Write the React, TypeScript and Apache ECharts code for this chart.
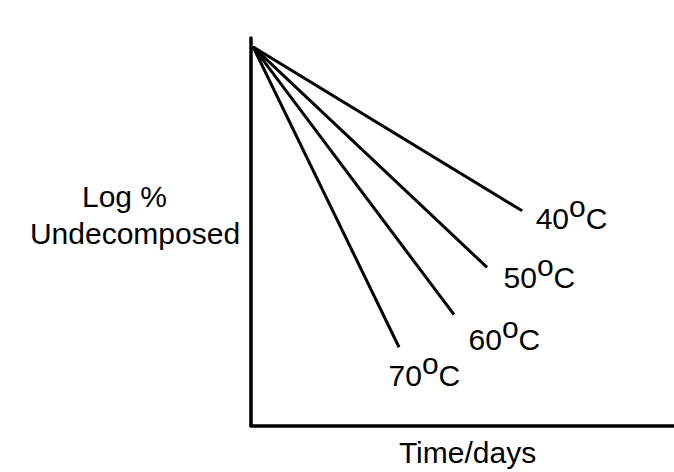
import React, { useEffect, useRef } from "react";
import * as echarts from "echarts";

// Data (arbitrary units: time 0-100, log % 0-100)
const temperatures = ["40", "50", "60", "70"];
const startTime = 0.5;
const startLog = 97.7;
const endTimes = [64.1, 55.8, 48.0, 35.0];
const endLogs = [55.4, 40.8, 28.6, 20.2];

const labelOffsets: [number, number][] = [
  [13, 8],
  [16, 10],
  [14, 25],
  [-11, 28],
];

const FONT = '"Liberation Sans", Arial, Helvetica, sans-serif';

export default function App() {
  const ref = useRef<HTMLDivElement>(null);

  useEffect(() => {
    if (!ref.current) return;
    const chart = echarts.init(ref.current, null, { renderer: "svg" });

    const series = temperatures.map((t, i) => ({
      type: "line",
      silent: true,
      symbol: "circle",
      symbolSize: 1,
      showSymbol: true,
      itemStyle: { color: "rgba(0,0,0,0)" },
      lineStyle: { color: "#000", width: 3 },
      data: [
        { value: [startTime, startLog], label: { show: false } },
        {
          value: [endTimes[i], endLogs[i]],
          label: {
            show: true,
            position: "right",
            distance: 0,
            offset: labelOffsets[i],
            color: "#000",
            formatter: `{n|${t}}{s|o}{n|C}`,
            rich: {
              n: { fontSize: 30, lineHeight: 34, fontFamily: FONT, color: "#000" },
              s: {
                fontSize: 30,
                lineHeight: 34,
                padding: [0, 0, 24, 0],
                fontFamily: FONT,
                color: "#000",
              },
            },
          },
        },
      ],
    }));

    chart.setOption({
      animation: false,
      backgroundColor: "#fff",
      grid: { left: 251, right: 0, top: 38, bottom: 42 },
      xAxis: {
        type: "value",
        min: 0,
        max: 100,
        name: "Time/days",
        nameLocation: "middle",
        nameGap: 11.5,
        nameTextStyle: {
          fontSize: 30,
          fontFamily: FONT,
          color: "#000",
          padding: [0, 0, 0, 10],
        },
        axisLine: { show: true, lineStyle: { color: "#000", width: 3.5 } },
        axisTick: { show: false },
        axisLabel: { show: false },
        splitLine: { show: false },
      },
      yAxis: {
        type: "value",
        min: 0,
        max: 100,
        name: "{a|Log %}\n{b|Undecomposed}",
        nameLocation: "middle",
        nameRotate: 0,
        nameGap: 116,
        nameTextStyle: {
          align: "center",
          verticalAlign: "middle",
          padding: [0, 0, 33, 0],
          fontFamily: FONT,
          color: "#000",
          rich: {
            a: {
              fontSize: 30,
              lineHeight: 37,
              fontFamily: FONT,
              color: "#000",
              padding: [0, 21, 0, 0],
            },
            b: { fontSize: 30, lineHeight: 37, fontFamily: FONT, color: "#000" },
          },
        },
        axisLine: { show: true, lineStyle: { color: "#000", width: 3.5 } },
        axisTick: { show: false },
        axisLabel: { show: false },
        splitLine: { show: false },
      },
      series,
    });

    return () => chart.dispose();
  }, []);

  return (
    <div
      ref={ref}
      style={{ position: "fixed", left: 0, top: 0, width: 674, height: 472 }}
    />
  );
}
